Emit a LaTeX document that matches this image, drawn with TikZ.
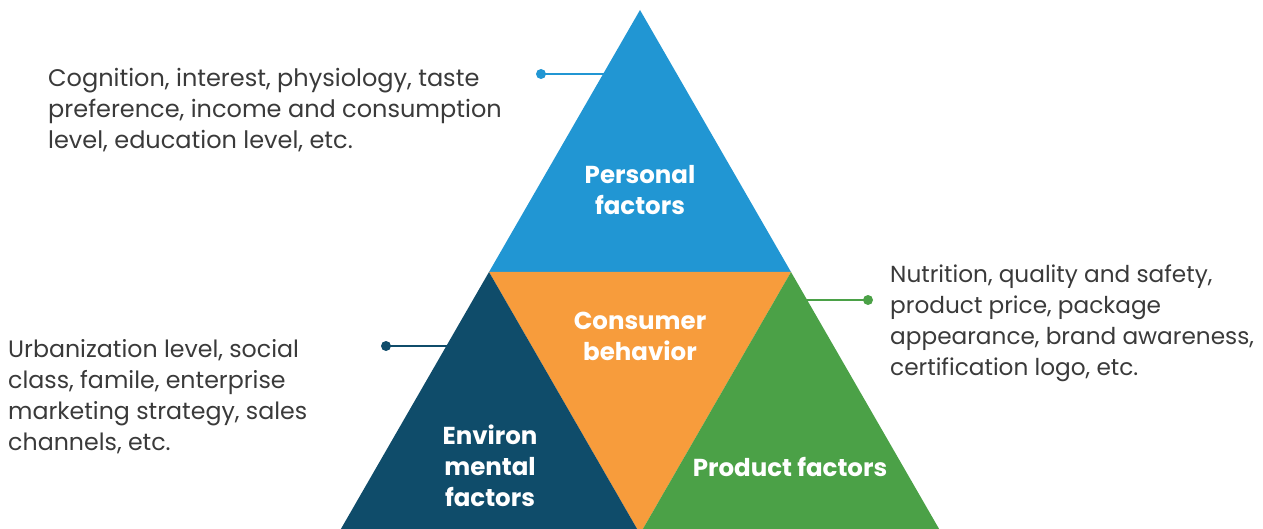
\documentclass[tikz,border=0pt]{standalone}
\usepackage{fontspec}
\setmainfont{Poppins}
\definecolor{cblue}{HTML}{2196D3}
\definecolor{corange}{HTML}{F79C3C}
\definecolor{cdark}{HTML}{0F4C6A}
\definecolor{cgreen}{HTML}{4BA147}
\definecolor{ctext}{HTML}{3A3A3A}
\begin{document}
\begin{tikzpicture}[x=1pt,y=-1pt,
  desc/.style={align=left,text=ctext,inner sep=0pt,anchor=base west,font=\fontsize{24}{31}\selectfont},
  lbl/.style={align=center,text=white,inner sep=0pt,anchor=base,font=\fontsize{24.5}{31}\selectfont\bfseries},
  dotc/.style={circle,inner sep=0pt,minimum size=10pt}]
\useasboundingbox (0,0) rectangle (1263,529);
% triangles
\fill[cblue] (640,10) -- (791,272) -- (489,272) -- cycle;
\fill[corange] (489,272) -- (791,272) -- (640,534) -- cycle;
\fill[cdark] (489,272) -- (640,534) -- (338,534) -- cycle;
\fill[cgreen] (791,272) -- (942,534) -- (640,534) -- cycle;
% labels (base anchor = last line baseline)
\node[lbl] (pers) at (640,215) {Personal\\factors};
\node[lbl] (cons) at (640,360) {Consumer\\behavior};
\node[lbl] (env) at (490,506) {Environ\\mental\\factors};
\node[lbl] (prod) at (790,476) {Product factors};
% connectors
\node[dotc,fill=cblue] (d1) at (541,74) {};
\coordinate (e1) at (604,74);
\draw[cblue,line width=2.5pt] (d1.center) -- (e1);
\node[dotc,fill=cdark] (d2) at (386,346) {};
\coordinate (e2) at (448,346);
\draw[cdark,line width=2.5pt] (d2.center) -- (e2);
\node[dotc,fill=cgreen] (d3) at (868,300) {};
\coordinate (e3) at (806,300);
\draw[cgreen,line width=2.5pt] (d3.center) -- (e3);
% descriptions
\node[desc] (t1) at (48,149) {Cognition, interest, physiology, taste\\preference, income and consumption\\level, education level, etc.};
\node[desc,font=\fontsize{23.2}{31}\selectfont] (t2) at (890,375) {Nutrition, quality and safety,\\product price, package\\appearance, brand awareness,\\certification logo, etc.};
\node[desc,font=\fontsize{23.7}{31}\selectfont] (t3) at (8,450) {Urbanization level, social\\class, famile, enterprise\\marketing strategy, sales\\channels, etc.};
\end{tikzpicture}
\end{document}
